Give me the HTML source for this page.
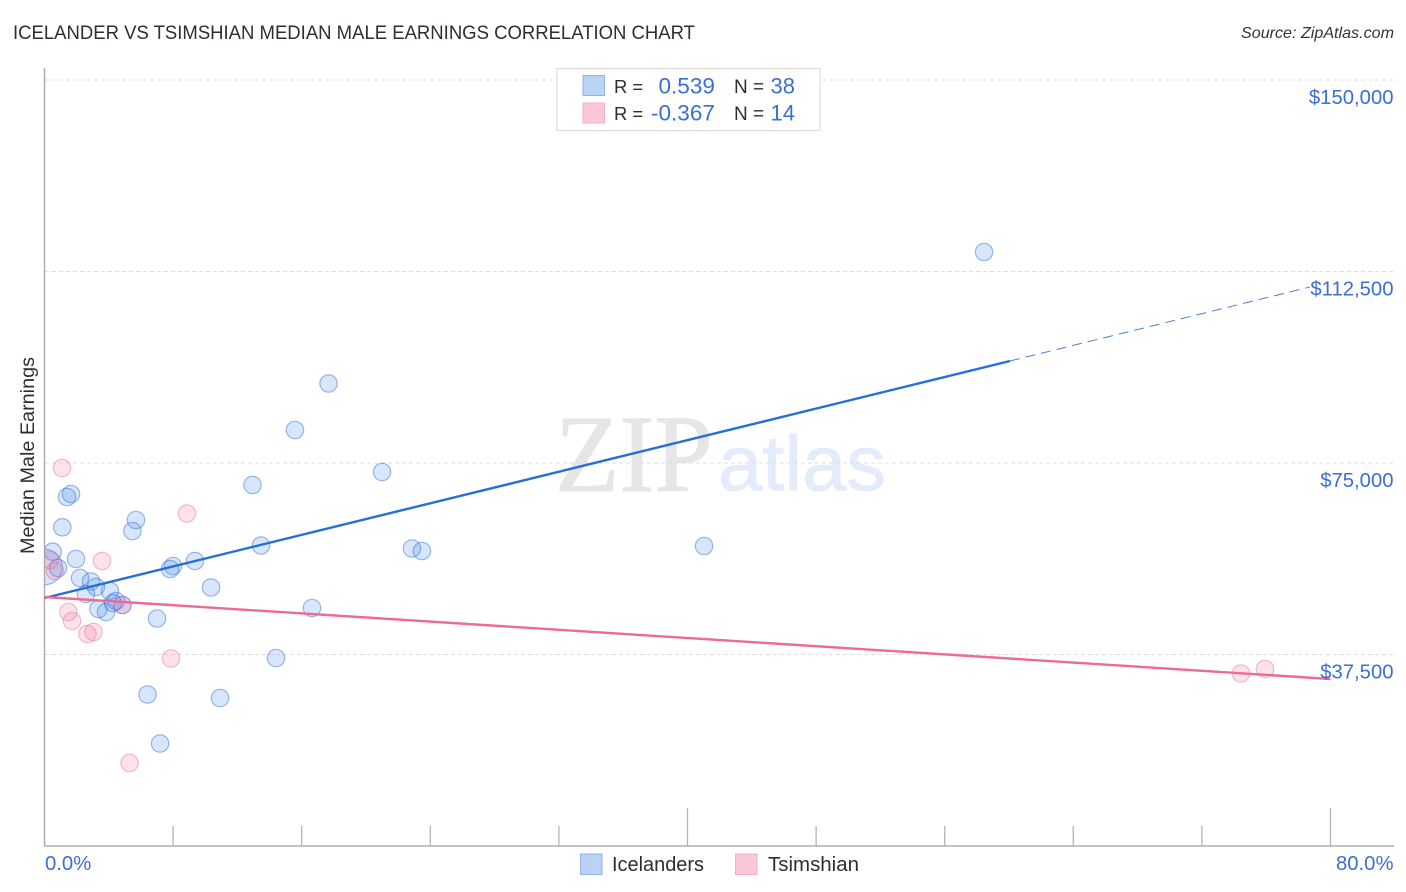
<!DOCTYPE html>
<html lang="en">
<head>
<meta charset="utf-8">
<title>Icelander vs Tsimshian Median Male Earnings Correlation Chart</title>
<style>
html,body{margin:0;padding:0;background:#fff;width:1406px;height:892px;overflow:hidden}
svg{display:block;font-family:"Liberation Sans",sans-serif}
</style>
</head>
<body>
<svg id="chart" width="1406" height="892" viewBox="0 0 1406 892" xmlns="http://www.w3.org/2000/svg">
  <defs>
    <clipPath id="plot-clip"><rect x="45" y="60" width="1350" height="786"/></clipPath>
  </defs>
  <text x="13" y="39" font-size="19" fill="#2a2f36" textLength="682" lengthAdjust="spacingAndGlyphs">ICELANDER VS TSIMSHIAN MEDIAN MALE EARNINGS CORRELATION CHART</text>
  <text x="1394" y="38" font-size="16" font-style="italic" fill="#30343a" text-anchor="end" textLength="153" lengthAdjust="spacingAndGlyphs">Source: ZipAtlas.com</text>
  <g>
    <text x="555" y="491" font-family="'Liberation Serif',serif" font-size="110" fill="#e6e6e6" stroke="#e6e6e6" stroke-width="1" textLength="158" lengthAdjust="spacingAndGlyphs">ZIP</text>
    <text x="718" y="490" font-size="78" fill="#e2ecfa" stroke="#e2ecfa" stroke-width="0.8" textLength="168" lengthAdjust="spacingAndGlyphs">atlas</text>
  </g>
  <g id="grid"></g>
  <g id="axes"></g>
  <g id="blue-points" clip-path="url(#plot-clip)"></g>
  <g id="pink-points" clip-path="url(#plot-clip)"></g>
  <g id="trends"></g>
  <g id="labels"></g>
  <text transform="translate(34,455.5) rotate(-90)" font-size="19" fill="#2a2f36" text-anchor="middle" textLength="197" lengthAdjust="spacingAndGlyphs">Median Male Earnings</text>
  <g>
    <rect x="557" y="68.5" width="263" height="62" fill="#fff" stroke="#dcdcdc" stroke-width="1.2"/>
    <rect x="583" y="75.5" width="21.5" height="20" fill="#b9d3f6" stroke="#8fb3e6" stroke-width="1"/>
    <rect x="583" y="103" width="21.5" height="20" fill="#fcc8d9" stroke="#f4aec6" stroke-width="1"/>
    <text x="614" y="93" font-size="18.4" fill="#2a2f36">R =</text>
    <text x="715" y="93.5" font-size="22.6" fill="#3a70d0" text-anchor="end">0.539</text>
    <text x="734" y="93" font-size="19" fill="#2a2f36">N =</text>
    <text x="795" y="93.5" font-size="22" fill="#3a70d0" text-anchor="end">38</text>
    <text x="614" y="120" font-size="18.4" fill="#2a2f36">R =</text>
    <text x="715" y="120.5" font-size="22.6" fill="#3a70d0" text-anchor="end">-0.367</text>
    <text x="734" y="120" font-size="19" fill="#2a2f36">N =</text>
    <text x="795" y="120.5" font-size="22" fill="#3a70d0" text-anchor="end">14</text>
  </g>
  <g>
    <rect x="580.5" y="854" width="21.5" height="20.5" fill="#b9d3f6" stroke="#8fb3e6" stroke-width="1"/>
    <text x="612" y="871" font-size="20" fill="#2a2f36" textLength="92" lengthAdjust="spacingAndGlyphs">Icelanders</text>
    <rect x="735.5" y="854" width="21.5" height="20.5" fill="#fcc8d9" stroke="#f4aec6" stroke-width="1"/>
    <text x="768" y="871" font-size="20" fill="#2a2f36" textLength="91" lengthAdjust="spacingAndGlyphs">Tsimshian</text>
  </g>
</svg>
<script>
const yTickValues = [150000, 112500, 75000, 37500];
const yTickLabels = ["$150,000", "$112,500", "$75,000", "$37,500"];
const xTickValues = [0, 8, 16, 24, 32, 40, 48, 56, 64, 72, 80];
const xTickLabels = ["0.0%", "80.0%"];

const icelanderX = [58.45, 17.67, 15.58, 21.0, 12.94, 1.65, 1.40, 1.11, 5.69, 5.47, 0.51, 1.96, 13.47, 41.03, 22.86, 23.48, 9.36, 7.99, 7.81, 0.84, 0.0, 2.21, 2.89, 3.20, 2.58, 4.07, 10.36, 3.36, 3.83, 4.45, 4.26, 4.85, 16.64, 7.0, 14.4, 6.41, 10.92, 7.19];
const icelanderY = [116319, 90569, 81463, 73239, 70693, 68931, 68343, 62410, 63839, 61685, 57632, 56202, 58846, 58748, 58258, 57769, 55811, 54831, 54244, 54440, 54636, 52482, 51796, 50719, 49349, 49936, 50621, 46411, 45824, 47978, 47586, 47194, 46607, 44551, 36816, 29669, 28983, 20073];
const icelanderWeight = [1, 1, 1, 1, 1, 1, 1, 1, 1, 1, 1, 1, 1, 1, 1, 1, 1, 1, 1, 1, 2.05, 1, 1, 1, 1, 1, 1, 1, 1, 1, 1, 1, 1, 1, 1, 1, 1, 1];

const tsimshianX = [1.09, 8.86, 3.58, 0.34, 0.65, 1.49, 1.71, 2.67, 3.05, 4.85, 7.87, 5.29, 74.43, 75.92];
const tsimshianY = [74022, 65112, 55811, 56006, 53852, 45824, 44061, 41516, 41907, 47194, 36718, 16255, 33781, 34662];

const icelanderTrendX = [0, 60.06];
const icelanderTrendY = [48565, 94975];
const icelanderProjectionX = [60.06, 78.72];
const icelanderProjectionY = [94975, 109465];
const tsimshianTrendX = [0, 80];
const tsimshianTrendY = [48761, 32704];

const SVG_NS = "http://www.w3.org/2000/svg";
function xScale(v) { return 44.5 + v * (1330.5 - 44.5) / 80; }
function yScale(v) { return 80 + (150000 - v) * (654.5 - 80) / 112500; }
function make(parentId, tag, attrs, text) {
  const el = document.createElementNS(SVG_NS, tag);
  for (const k in attrs) el.setAttribute(k, attrs[k]);
  if (text !== undefined) el.textContent = text;
  document.getElementById(parentId).appendChild(el);
  return el;
}

yTickValues.forEach(function (v, i) {
  const y = yScale(v);
  const line = make("grid", "line", {x1: 45, x2: 1394, y1: y, y2: y, stroke: "#dedede", "stroke-width": 1, "stroke-dasharray": "4 3"});
  
  
  const label = make("labels", "text", {x: 1393.5, y: y + 24, "font-size": 20.3, fill: "#3a70d0", "text-anchor": "end"}, yTickLabels[i]);
  
  
});

const yAxis = make("axes", "line", {x1: 44.5, x2: 44.5, y1: 68, y2: 846.5, stroke: "#aaaaaa", "stroke-width": 1.4});


const xAxis = make("axes", "line", {x1: 44, x2: 1394, y1: 846, y2: 846, stroke: "#b0b0b0", "stroke-width": 1.4});



xTickValues.forEach(function (v, i) {
  if (i === 0) return;
  const tall = v === 40 || v === 80;
  const x = xScale(v);
  const tick = make("axes", "line", {x1: x, x2: x, y1: tall ? 808 : 826, y2: 846, stroke: "#b4b4b4", "stroke-width": 1.3});
  
  
});

const xLabelStart = make("labels", "text", {x: 45, y: 870, "font-size": 20.3, fill: "#3a70d0"}, xTickLabels[0]);


const xLabelEnd = make("labels", "text", {x: 1393.5, y: 870, "font-size": 20.3, fill: "#3a70d0", "text-anchor": "end"}, xTickLabels[1]);



icelanderX.forEach(function (v, i) {
  const dot = make("blue-points", "circle", {cx: xScale(v), cy: yScale(icelanderY[i]), r: 8.7 * icelanderWeight[i], fill: "rgba(58,130,235,0.2)", stroke: "rgba(40,105,205,0.45)", "stroke-width": 1.2});
  
  
});

tsimshianX.forEach(function (v, i) {
  const dot = make("pink-points", "circle", {cx: xScale(v), cy: yScale(tsimshianY[i]), r: 8.7, fill: "rgba(240,110,155,0.2)", stroke: "rgba(232,100,145,0.42)", "stroke-width": 1.2});
  
  
});

const blueTrend = make("trends", "line", {x1: xScale(icelanderTrendX[0]), y1: yScale(icelanderTrendY[0]), x2: xScale(icelanderTrendX[1]), y2: yScale(icelanderTrendY[1]), stroke: "#2470d8", "stroke-width": 2.4});


const blueProjection = make("trends", "line", {x1: xScale(icelanderProjectionX[0]), y1: yScale(icelanderProjectionY[0]), x2: xScale(icelanderProjectionX[1]), y2: yScale(icelanderProjectionY[1]), stroke: "#4a80d4", "stroke-width": 1, "stroke-dasharray": "10 6"});


const pinkTrend = make("trends", "line", {x1: xScale(tsimshianTrendX[0]), y1: yScale(tsimshianTrendY[0]), x2: xScale(tsimshianTrendX[1]), y2: yScale(tsimshianTrendY[1]), stroke: "#ec6a98", "stroke-width": 2.4});


</script>
</body>
</html>
